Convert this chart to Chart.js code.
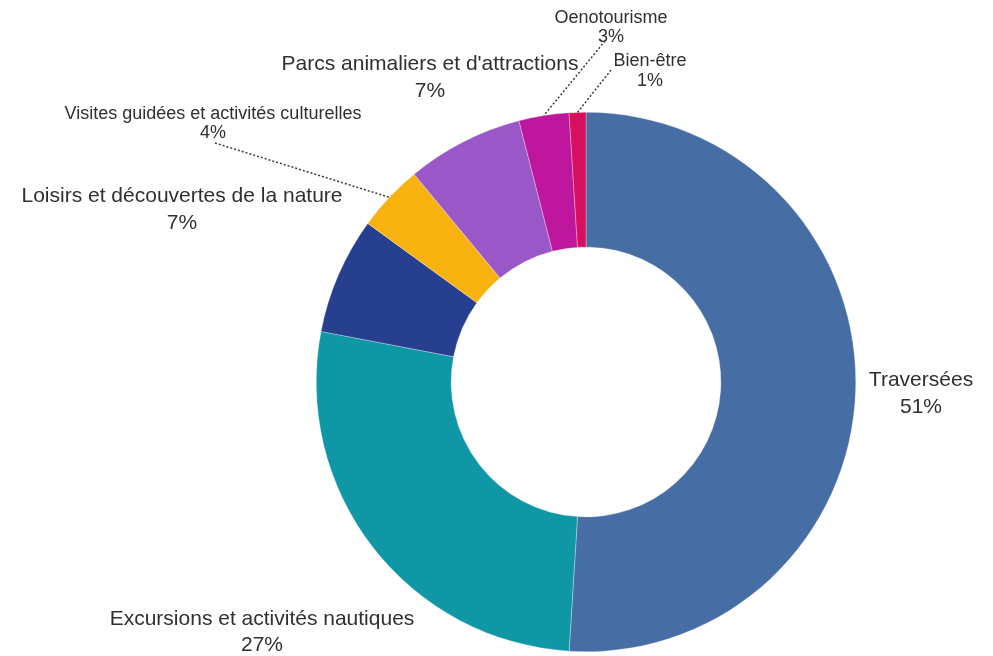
<!DOCTYPE html>
<html lang="fr">
<head>
<meta charset="utf-8">
<title>Répartition des activités</title>
<script src="https://cdn.jsdelivr.net/npm/chart.js@4/dist/chart.umd.min.js"></script>
<style>
  html, body { margin: 0; padding: 0; background: #ffffff; }
  #wrap { position: relative; width: 993px; height: 656px; }
</style>
</head>
<body>
<div id="wrap"><canvas id="chart"></canvas></div>
<script>
// Activity categories and their share (%)
const categories = [
  'Traversées',
  'Excursions et activités nautiques',
  'Loisirs et découvertes de la nature',
  'Visites guidées et activités culturelles',
  "Parcs animaliers et d'attractions",
  'Oenotourisme',
  'Bien-être'
];
const shares = [51, 27, 7, 4, 7, 3, 1];

const sliceColors = ['#476ea4', '#0f97a6', '#26408f', '#f8b20f', '#9a57c8', '#bf169e', '#d7105d'];

// Label placement: text centre x, first/second line centre y, font size,
// and optional start point of a dotted leader line towards the slice.
const labelLayout = [
  { x: 921, y1: 380, y2: 407, size: 21 },
  { x: 262, y1: 619, y2: 645, size: 21 },
  { x: 182, y1: 196, y2: 223, size: 21 },
  { x: 213, y1: 114, y2: 133, size: 18, lead: [215, 143] },
  { x: 430, y1: 64,  y2: 91,  size: 21 },
  { x: 611, y1: 18,  y2: 37,  size: 18, lead: [605, 41] },
  { x: 650, y1: 61,  y2: 81,  size: 18, lead: [611, 70] }
];

const TEXT_COLOR = '#303030';
const FONT = '"Liberation Sans", Arial, sans-serif';

const sliceLabels = {
  id: 'sliceLabels',
  afterDraw(chart) {
    const ctx = chart.ctx;
    const arcs = chart.getDatasetMeta(0).data;
    ctx.save();
    ctx.fillStyle = TEXT_COLOR;
    ctx.textAlign = 'center';
    ctx.textBaseline = 'middle';
    labelLayout.forEach((lay, i) => {
      ctx.font = lay.size + 'px ' + FONT;
      ctx.fillText(categories[i], lay.x, lay.y1);
      ctx.fillText(shares[i] + '%', lay.x, lay.y2);
      if (lay.lead) {
        const a = arcs[i];
        const mid = (a.startAngle + a.endAngle) / 2;
        const ex = a.x + Math.cos(mid) * a.outerRadius;
        const ey = a.y + Math.sin(mid) * a.outerRadius;
        ctx.beginPath();
        ctx.setLineDash([2, 2]);
        ctx.lineWidth = 1.5;
        ctx.strokeStyle = '#3a3a3a';
        ctx.moveTo(lay.lead[0], lay.lead[1]);
        ctx.lineTo(ex, ey);
        ctx.stroke();
        ctx.setLineDash([]);
      }
    });
    ctx.restore();
  }
};

new Chart(document.getElementById('chart'), {
  type: 'doughnut',
  data: {
    labels: categories,
    datasets: [{
      data: shares,
      backgroundColor: sliceColors,
      borderColor: 'rgba(255,255,255,0.6)',
      borderWidth: 0.5
    }]
  },
  options: {
    responsive: true,
    maintainAspectRatio: false,
    animation: false,
    cutout: '50%',
    layout: { padding: { left: 316, right: 137, top: 112, bottom: 4 } },
    plugins: {
      legend: { display: false },
      tooltip: { enabled: false }
    }
  },
  plugins: [sliceLabels]
});
</script>
</body>
</html>
